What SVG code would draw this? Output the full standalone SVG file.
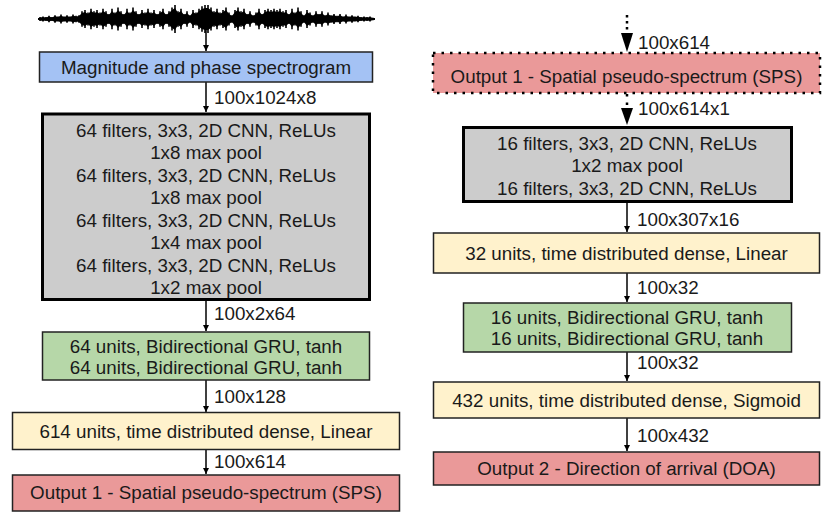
<svg xmlns="http://www.w3.org/2000/svg" width="830" height="518" viewBox="0 0 830 518">
<style>
text{font-family:"Liberation Sans",Arial,sans-serif;font-size:18.8px;fill:#1a1a1a}
.c{text-anchor:middle}
.box{stroke:#222;stroke-width:1.5}
.thick{fill:#cccccc;stroke:#000;stroke-width:3}
.blue{fill:#a4c2f4}
.green{fill:#b6d7a8}
.yellow{fill:#fff2cc}
.red{fill:#ea9999}
.conn{stroke:#000;stroke-width:1.5;fill:none}
.dot{stroke:#000;stroke-width:2.5;fill:none;stroke-dasharray:2.5 6}
</style>
<defs>
<marker id="ah" viewBox="0 0 10 10" refX="10" refY="5" markerWidth="6" markerHeight="6" markerUnits="userSpaceOnUse" orient="auto">
<path d="M0,0 L10,5 L0,10 z" fill="#000"/>
</marker>
</defs>
<rect width="830" height="518" fill="#fff"/>

<g id="waveform">
<line x1="38" y1="19" x2="375" y2="19" stroke="#000" stroke-width="2"/>
<path fill="#000" d="M40,17.5 L43,17 L46,17.5 L49,16.5 L52,17.5 L55,16 L58,17 L61,15.5 L64,17 L67,16 L70,17 L73,15.5 L76,16.5 L79,16 L82,13 L85,12 L88,14 L91,11 L94,13 L97,12 L100,14 L103,11 L106,13 L109,15 L112,11 L115,14 L118,10 L121,13 L124,15 L127,11 L130,14 L133,10 L136,13 L139,15 L142,12 L145,14 L148,11 L151,14 L154,12 L157,15 L160,13 L163,11 L166,15 L169,13 L172,10 L175,8 L178,13 L181,11 L184,15 L187,13 L190,16 L193,12 L196,14 L199,11 L202,9 L205,8 L208,8 L211,10 L214,13 L217,11 L220,14 L223,12 L226,10 L229,14 L232,16 L235,12 L238,10 L241,13 L244,11 L247,15 L250,13 L253,16 L256,14 L259,11 L262,15 L265,12 L268,11 L271,12 L274,11 L277,12 L280,11 L283,13 L286,12 L289,15 L292,11 L295,14 L298,10 L301,13 L304,16 L307,12 L310,14 L313,16 L316,13 L319,15 L322,13 L325,16 L328,14 L331,16 L334,15 L337,16.5 L340,15 L343,17 L346,15.5 L349,17 L352,16 L355,17 L358,16.5 L361,17.5 L364,17 L367,17.5 L370,17 L373,18 L373,20 L370,21 L367,20.5 L364,21 L361,20.5 L358,21.5 L355,21 L352,22 L349,21 L346,22.5 L343,21 L340,23 L337,21.5 L334,23 L331,22 L328,24 L325,22 L322,25 L319,23 L316,25 L313,22 L310,24 L307,26 L304,22 L301,25 L298,28 L295,24 L292,27 L289,23 L286,26 L283,25 L280,27 L277,26 L274,27 L271,26 L268,27 L265,26 L262,23 L259,27 L256,24 L253,22 L250,25 L247,23 L244,27 L241,25 L238,28 L235,26 L232,22 L229,24 L226,28 L223,26 L220,24 L217,27 L214,25 L211,28 L208,30 L205,30 L202,29 L199,27 L196,24 L193,26 L190,22 L187,25 L184,23 L181,27 L178,25 L175,30 L172,28 L169,25 L166,23 L163,27 L160,25 L157,23 L154,26 L151,24 L148,27 L145,24 L142,26 L139,23 L136,25 L133,28 L130,24 L127,27 L124,23 L121,25 L118,28 L115,24 L112,27 L109,23 L106,25 L103,27 L100,24 L97,26 L94,25 L91,27 L88,24 L85,26 L82,25 L79,22 L76,21.5 L73,22.5 L70,21 L67,22 L64,21 L61,22.5 L58,21 L55,22 L52,20.5 L49,21.5 L46,20.5 L43,21 L40,20.5 z"/>
<path fill="none" stroke="#000" stroke-width="1.6" transform="translate(0,19) scale(1,1.28) translate(0,-19)" d="M40 17.5V20.5M43 17V21M46 17.5V20.5M49 16.5V21.5M52 17.5V20.5M55 16V22M58 17V21M61 15.5V22.5M64 17V21M67 16V22M70 17V21M73 15.5V22.5M76 16.5V21.5M79 16V22M82 13V25M85 12V26M88 14V24M91 11V27M94 13V25M97 12V26M100 14V24M103 11V27M106 13V25M109 15V23M112 11V27M115 14V24M118 10V28M121 13V25M124 15V23M127 11V27M130 14V24M133 10V28M136 13V25M139 15V23M142 12V26M145 14V24M148 11V27M151 14V24M154 12V26M157 15V23M160 13V25M163 11V27M166 15V23M169 13V25M172 10V28M175 8V30M178 13V25M181 11V27M184 15V23M187 13V25M190 16V22M193 12V26M196 14V24M199 11V27M202 9V29M205 8V30M208 8V30M211 10V28M214 13V25M217 11V27M220 14V24M223 12V26M226 10V28M229 14V24M232 16V22M235 12V26M238 10V28M241 13V25M244 11V27M247 15V23M250 13V25M253 16V22M256 14V24M259 11V27M262 15V23M265 12V26M268 11V27M271 12V26M274 11V27M277 12V26M280 11V27M283 13V25M286 12V26M289 15V23M292 11V27M295 14V24M298 10V28M301 13V25M304 16V22M307 12V26M310 14V24M313 16V22M316 13V25M319 15V23M322 13V25M325 16V22M328 14V24M331 16V22M334 15V23M337 16.5V21.5M340 15V23M343 17V21M346 15.5V22.5M349 17V21M352 16V22M355 17V21M358 16.5V21.5M361 17.5V20.5M364 17V21M367 17.5V20.5M370 17V21M373 18V20"/>
</g>

<g id="connectors">
<line class="conn" x1="206" y1="30" x2="206" y2="51" marker-end="url(#ah)"/>
<line class="conn" x1="206" y1="82" x2="206" y2="112" marker-end="url(#ah)"/>
<line class="conn" x1="206" y1="300" x2="206" y2="331" marker-end="url(#ah)"/>
<line class="conn" x1="206" y1="380" x2="206" y2="412" marker-end="url(#ah)"/>
<line class="conn" x1="206" y1="450" x2="206" y2="474" marker-end="url(#ah)"/>
<line x1="627" y1="15" x2="627" y2="33" stroke="#000" stroke-width="2.5" stroke-dasharray="2.5 3.5"/>
<path d="M621,33 L633,33 L627,52 z" fill="#000"/>
<line x1="627" y1="94" x2="627" y2="108" stroke="#000" stroke-width="2.5" stroke-dasharray="2.5 6"/>
<path d="M621,108 L633,108 L627,125 z" fill="#000"/>
<line class="conn" x1="627" y1="202" x2="627" y2="232" marker-end="url(#ah)"/>
<line class="conn" x1="627" y1="273" x2="627" y2="302" marker-end="url(#ah)"/>
<line class="conn" x1="627" y1="352" x2="627" y2="381" marker-end="url(#ah)"/>
<line class="conn" x1="627" y1="418" x2="627" y2="451" marker-end="url(#ah)"/>
<text x="214" y="103.5">100x1024x8</text>
<text x="214" y="319.5">100x2x64</text>
<text x="214" y="403">100x128</text>
<text x="214" y="468">100x614</text>
<text x="638" y="48.5">100x614</text>
<text x="638" y="114.5">100x614x1</text>
<text x="637" y="225.5">100x307x16</text>
<text x="637" y="293.5">100x32</text>
<text x="637" y="368.8">100x32</text>
<text x="637" y="441.5">100x432</text>
</g>

<g id="spectrogram">
<rect class="box blue" x="39.5" y="52" width="333" height="30"/>
<text class="c" x="206" y="73.5">Magnitude and phase spectrogram</text>
</g>

<g id="cnn-left">
<rect class="thick" x="42.5" y="114" width="327" height="185.5"/>
<text class="c" x="206" y="136.5">64 filters, 3x3, 2D CNN, ReLUs</text>
<text class="c" x="206" y="159">1x8 max pool</text>
<text class="c" x="206" y="181.5">64 filters, 3x3, 2D CNN, ReLUs</text>
<text class="c" x="206" y="204">1x8 max pool</text>
<text class="c" x="206" y="226.5">64 filters, 3x3, 2D CNN, ReLUs</text>
<text class="c" x="206" y="249">1x4 max pool</text>
<text class="c" x="206" y="271.5">64 filters, 3x3, 2D CNN, ReLUs</text>
<text class="c" x="206" y="294">1x2 max pool</text>
</g>

<g id="gru-left">
<rect class="box green" x="42.5" y="332" width="327" height="48"/>
<text class="c" x="206" y="352.5">64 units, Bidirectional GRU, tanh</text>
<text class="c" x="206" y="374">64 units, Bidirectional GRU, tanh</text>
</g>

<g id="dense-left">
<rect class="box yellow" x="12.5" y="412.5" width="387" height="37"/>
<text class="c" x="206" y="438">614 units, time distributed dense, Linear</text>
</g>

<g id="sps-left">
<rect class="box red" x="12.5" y="475" width="387" height="36"/>
<text class="c" x="206" y="499">Output 1 - Spatial pseudo-spectrum (SPS)</text>
</g>

<g id="sps-right">
<rect class="red" x="433" y="53" width="387" height="40"/>
<rect class="dot" x="433" y="53" width="387" height="40"/>
<text class="c" x="626.5" y="82.5">Output 1 - Spatial pseudo-spectrum (SPS)</text>
</g>

<g id="cnn-right">
<rect class="thick" x="463.5" y="127.5" width="328" height="74"/>
<text class="c" x="627" y="149.5">16 filters, 3x3, 2D CNN, ReLUs</text>
<text class="c" x="627" y="172">1x2 max pool</text>
<text class="c" x="627" y="194.5">16 filters, 3x3, 2D CNN, ReLUs</text>
</g>

<g id="dense32">
<rect class="box yellow" x="433.5" y="233" width="386" height="40"/>
<text class="c" x="626.5" y="259.5">32 units, time distributed dense, Linear</text>
</g>

<g id="gru-right">
<rect class="box green" x="463.5" y="303" width="328" height="49"/>
<text class="c" x="627" y="323.5">16 units, Bidirectional GRU, tanh</text>
<text class="c" x="627" y="344.5">16 units, Bidirectional GRU, tanh</text>
</g>

<g id="dense432">
<rect class="box yellow" x="433.5" y="382" width="386" height="36"/>
<text class="c" x="626.5" y="406.5">432 units, time distributed dense, Sigmoid</text>
</g>

<g id="doa">
<rect class="box red" x="433.5" y="452" width="386" height="33"/>
<text class="c" x="626.5" y="474.5">Output 2 - Direction of arrival (DOA)</text>
</g>
</svg>
